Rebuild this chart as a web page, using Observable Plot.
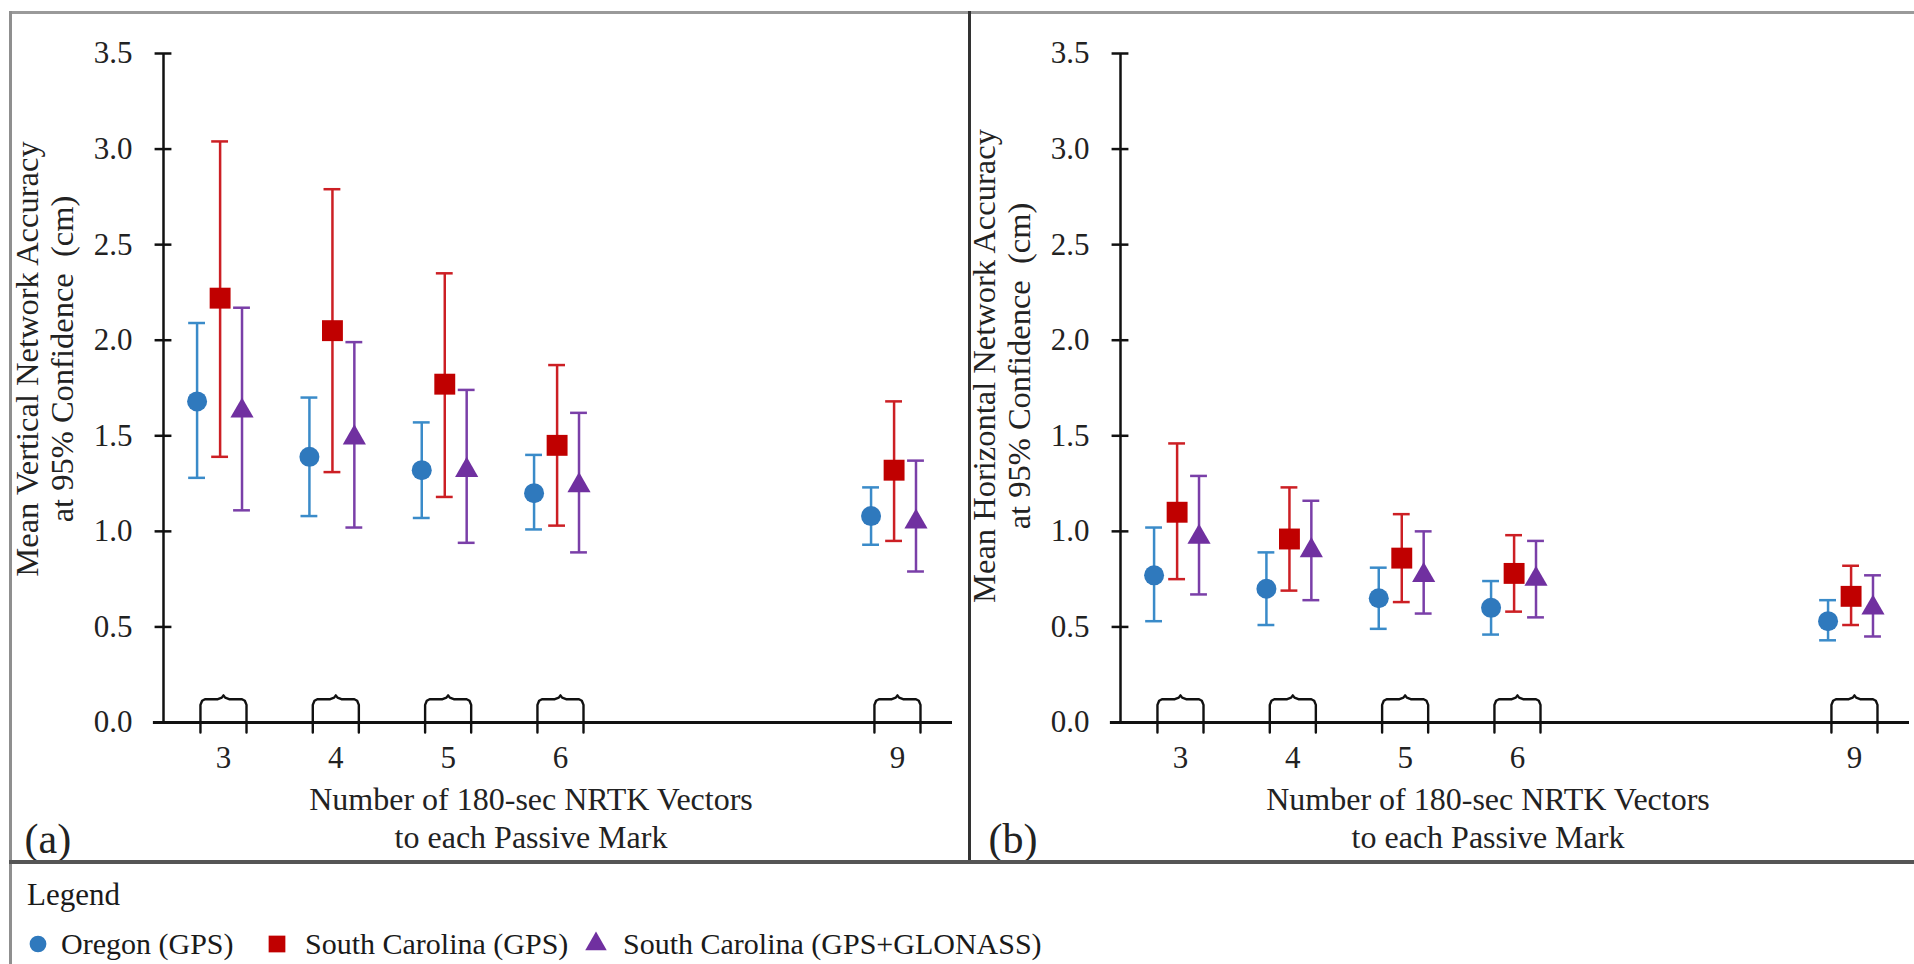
<!DOCTYPE html>
<html>
<head>
<meta charset="utf-8">
<script src="https://cdn.jsdelivr.net/npm/d3@7"></script>
<script src="https://cdn.jsdelivr.net/npm/@observablehq/plot@0.6"></script>
<style>
  html, body { margin: 0; padding: 0; background: #fff; }
  #page { position: relative; width: 1914px; height: 964px; overflow: hidden; background: #fff;
          font-family: 'Liberation Serif', 'Times New Roman', serif; color: #1a1a1a; }
  .pan { position: absolute; top: 0; }
  .line { position: absolute; }
  .lg { position: absolute; font-size: 30px; line-height: 1; white-space: nowrap; }
  .sw { position: absolute; }
</style>
</head>
<body>
<div id="page"></div>
<script>
// ---------------- data ----------------
const vectors = [3, 4, 5, 6, 9];
const yTicks = [0, 0.5, 1.0, 1.5, 2.0, 2.5, 3.0, 3.5];
const seriesNames = ["Oregon (GPS)", "South Carolina (GPS)", "South Carolina (GPS+GLONASS)"];

// (a) vertical network accuracy (cm)
const oregonV_mean = [1.68, 1.39, 1.32, 1.20, 1.08];
const oregonV_lo   = [1.28, 1.08, 1.07, 1.01, 0.93];
const oregonV_hi   = [2.09, 1.70, 1.57, 1.40, 1.23];
const scV_mean     = [2.22, 2.05, 1.77, 1.45, 1.32];
const scV_lo       = [1.39, 1.31, 1.18, 1.03, 0.95];
const scV_hi       = [3.04, 2.79, 2.35, 1.87, 1.68];
const scGlV_mean   = [1.63, 1.49, 1.32, 1.24, 1.05];
const scGlV_lo     = [1.11, 1.02, 0.94, 0.89, 0.79];
const scGlV_hi     = [2.17, 1.99, 1.74, 1.62, 1.37];

// (b) horizontal network accuracy (cm)
const oregonH_mean = [0.77, 0.70, 0.65, 0.60, 0.53];
const oregonH_lo   = [0.53, 0.51, 0.49, 0.46, 0.43];
const oregonH_hi   = [1.02, 0.89, 0.81, 0.74, 0.64];
const scH_mean     = [1.10, 0.96, 0.86, 0.78, 0.66];
const scH_lo       = [0.75, 0.69, 0.63, 0.58, 0.51];
const scH_hi       = [1.46, 1.23, 1.09, 0.98, 0.82];
const scGlH_mean   = [0.97, 0.90, 0.77, 0.75, 0.60];
const scGlH_lo     = [0.67, 0.64, 0.57, 0.55, 0.45];
const scGlH_hi     = [1.29, 1.16, 1.00, 0.95, 0.77];

const xTitle = "Number of 180-sec NRTK Vectors\nto each Passive Mark";
const yTitleA = "Mean Vertical Network Accuracy\nat 95% Confidence  (cm)";
const yTitleB = "Mean Horizontal Network Accuracy\nat 95% Confidence  (cm)";

// ---------------- styling ----------------
const styles = [
  {symbol: "circle",   r: 10,  fill: "#2f79bd", bar: "#3a8bc9", off: -0.235},
  {symbol: "square",   r: 11.8, fill: "#c00000", bar: "#cc1f24", off: -0.03},
  {symbol: "triangle", r: 8.6, fill: "#7030a0", bar: "#7a3fa8", off: 0.165}
];
const FONT = "'Liberation Serif', 'Times New Roman', serif";
const XMIN = 2.466, XMAX = 9.49;

function makePanel(width, series, yTitle, tag, tagX, yTitleDy) {
  const marks = [];
  // axes
  marks.push(Plot.ruleY([0], {x1: () => XMIN - 0.09, x2: () => XMAX, stroke: "#111", strokeWidth: 3}));
  marks.push(Plot.ruleX([XMIN], {y1: () => 0, y2: () => 3.5, stroke: "#111", strokeWidth: 2.5}));
  marks.push(Plot.ruleY(yTicks.filter(d => d > 0), {x1: () => XMIN - 0.075, x2: () => XMIN + 0.075, stroke: "#111", strokeWidth: 2.5}));
  marks.push(Plot.text(yTicks, {x: () => XMIN, y: d => d, dx: -31, textAnchor: "end", text: d => d.toFixed(1), fontSize: 31, fill: "#222"}));
  marks.push(Plot.text(vectors, {x: d => d, y: () => 0, dy: 36, text: d => String(d), fontSize: 31, fill: "#222"}));
  // broken-axis brackets at each category
  const legX = 0.205, topY = 0.122, botY = -0.052;
  const shape = [[-legX, botY], [-legX, topY - 0.03], [-legX + 0.015, topY - 0.008], [-legX + 0.04, topY],
                 [-0.05, topY], [-0.015, topY + 0.008], [0, topY + 0.02], [0.015, topY + 0.008], [0.05, topY],
                 [legX - 0.04, topY], [legX - 0.015, topY - 0.008], [legX, topY - 0.03], [legX, botY]];
  const bracket = vectors.flatMap(v => shape.map(([dx, y]) => ({g: v, x: v + dx, y})));
  marks.push(Plot.line(bracket, {x: "x", y: "y", z: "g", stroke: "#111", strokeWidth: 2.4}));
  // series
  series.forEach((s, i) => {
    const st = styles[i];
    const rows = vectors.map((v, j) => ({x: v + st.off, mean: s.mean[j], lo: s.lo[j], hi: s.hi[j]}));
    marks.push(Plot.ruleX(rows, {x: "x", y1: "lo", y2: "hi", stroke: st.bar, strokeWidth: 2.5}));
    marks.push(Plot.ruleY(rows, {y: "hi", x1: d => d.x - 0.075, x2: d => d.x + 0.075, stroke: st.bar, strokeWidth: 2.5}));
    marks.push(Plot.ruleY(rows, {y: "lo", x1: d => d.x - 0.075, x2: d => d.x + 0.075, stroke: st.bar, strokeWidth: 2.5}));
    marks.push(Plot.dot(rows, {x: "x", y: "mean", symbol: st.symbol, r: st.r, fill: st.fill, stroke: "none"}));
  });
  // titles
  marks.push(Plot.text([yTitle], {frameAnchor: "left", dx: -119, dy: yTitleDy, rotate: -90, text: d => d,
                                  textAnchor: "middle", lineAnchor: "middle",
                                  fontSize: 32.5, lineHeight: 1.08, fill: "#222"}));
  marks.push(Plot.text([xTitle], {frameAnchor: "bottom", dx: -27, dy: 94, text: d => d,
                                  textAnchor: "middle", lineAnchor: "middle",
                                  fontSize: 32, lineHeight: 1.2, fill: "#222"}));
  marks.push(Plot.text([tag], {frameAnchor: "bottom-left", dx: tagX - 163, dy: 117, textAnchor: "start",
                               lineAnchor: "middle", text: d => d, fontSize: 42, fill: "#222"}));
  return Plot.plot({
    width, height: 863,
    marginLeft: 163, marginRight: width - 952, marginTop: 53, marginBottom: 141,
    x: {domain: [XMIN, XMAX], axis: null},
    y: {domain: [0, 3.5], axis: null},
    style: {fontFamily: FONT, background: "transparent", overflow: "visible"},
    marks
  });
}

const page = document.getElementById("page");

const pa = makePanel(960, [
  {mean: oregonV_mean, lo: oregonV_lo, hi: oregonV_hi},
  {mean: scV_mean, lo: scV_lo, hi: scV_hi},
  {mean: scGlV_mean, lo: scGlV_lo, hi: scGlV_hi}
], yTitleA, "(a)", 24, -29);
pa.classList.add("pan"); pa.style.left = "0px";
page.appendChild(pa);

const pb = makePanel(957, [
  {mean: oregonH_mean, lo: oregonH_lo, hi: oregonH_hi},
  {mean: scH_mean, lo: scH_lo, hi: scH_hi},
  {mean: scGlH_mean, lo: scGlH_lo, hi: scGlH_hi}
], yTitleB, "(b)", 31, -22);
pb.classList.add("pan"); pb.style.left = "957px";
page.appendChild(pb);

// frame lines
function line(l, t, w, h, c) {
  const d = document.createElement("div");
  d.className = "line";
  Object.assign(d.style, {left: l + "px", top: t + "px", width: w + "px", height: h + "px", background: c});
  page.appendChild(d);
}
line(9, 11, 1905, 3, "#9a9a9a");
line(9, 11, 3, 953, "#8f8f8f");
line(968, 11, 3, 852, "#333");
line(9, 860, 1905, 4, "#555");

// legend
function txt(s, l, t, size) {
  const d = document.createElement("div");
  d.className = "lg";
  d.textContent = s;
  d.style.left = l + "px"; d.style.top = t + "px";
  if (size) d.style.fontSize = size + "px";
  page.appendChild(d);
  return d;
}
txt("Legend", 27, 879, 31);
const legendPos = [{sx: 38, tx: 61}, {sx: 277, tx: 305}, {sx: 596, tx: 623}];
seriesNames.forEach((name, i) => {
  const st = styles[i];
  const ns = "http://www.w3.org/2000/svg";
  const svg = document.createElementNS(ns, "svg");
  svg.setAttribute("width", 26); svg.setAttribute("height", 26);
  svg.setAttribute("class", "sw");
  svg.style.left = (legendPos[i].sx - 13) + "px";
  svg.style.top = (944 - 13) + "px";
  const p = document.createElementNS(ns, "path");
  const size = st.symbol === "circle" ? 220 : st.symbol === "square" ? 280 : 200;
  const sym = st.symbol === "circle" ? d3.symbolCircle : st.symbol === "square" ? d3.symbolSquare : d3.symbolTriangle;
  p.setAttribute("d", d3.symbol(sym, size)());
  p.setAttribute("transform", "translate(13,13)");
  p.setAttribute("fill", st.fill);
  svg.appendChild(p);
  page.appendChild(svg);
  txt(name, legendPos[i].tx, 929);
});
</script>
</body>
</html>
